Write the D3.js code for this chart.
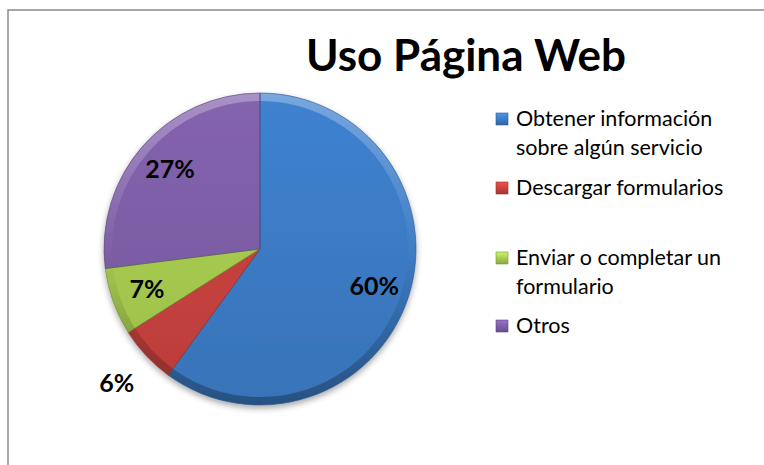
<!DOCTYPE html>
<meta charset="utf-8">
<style>
body { margin: 0; background: #fff; }
text { font-family: Lato, "Open Sans", sans-serif; }
.title { font-weight: bold; font-size: 44px; }
.legend text { font-size: 21.5px; fill: #000; }
.label { font-weight: bold; font-size: 25px; fill: #000; }
</style>
<svg width="764" height="465"></svg>
<script src="https://d3js.org/d3.v7.min.js"></script>
<script>

// chart data
var categories = ["Obtener información sobre algún servicio", "Descargar formularios", "Enviar o completar un formulario", "Otros"];
var legendLines = [["Obtener información", "sobre algún servicio"], ["Descargar formularios"], ["Enviar o completar un", "formulario"], ["Otros"]];
var values = [0.60, 0.06, 0.07, 0.27];
var colors = ["#3b79c2", "#c4403d", "#a4c74e", "#7b5ca3"];

var svg = d3.select("svg");

// frame of the chart area
svg.append("path")
    .attr("d", "M8,470 V10 H770")
    .attr("fill", "none")
    .attr("stroke", "#8a8a8a")
    .attr("stroke-width", 1.5);

var defs = svg.append("defs");

var shadow = defs.append("filter").attr("id", "shadow")
    .attr("x", "-20%").attr("y", "-20%").attr("width", "140%").attr("height", "140%");
shadow.append("feGaussianBlur").attr("in", "SourceAlpha").attr("stdDeviation", 3);
shadow.append("feOffset").attr("dx", 0).attr("dy", 3).attr("result", "b");
shadow.append("feComponentTransfer").append("feFuncA").attr("type", "linear").attr("slope", 0.35);
var merge = shadow.append("feMerge");
merge.append("feMergeNode");
merge.append("feMergeNode").attr("in", "SourceGraphic");

var cx = 260, cy = 249, radius = 156;

// rim gradient: light at top, dark at bottom (in group coordinates)
var rim = defs.append("linearGradient").attr("id", "rim")
    .attr("gradientUnits", "userSpaceOnUse")
    .attr("x1", 0).attr("y1", -radius).attr("x2", 0).attr("y2", radius);
rim.append("stop").attr("offset", "0%").attr("stop-color", "#fff").attr("stop-opacity", 0.3);
rim.append("stop").attr("offset", "45%").attr("stop-color", "#fff").attr("stop-opacity", 0.04);
rim.append("stop").attr("offset", "60%").attr("stop-color", "#000").attr("stop-opacity", 0.04);
rim.append("stop").attr("offset", "100%").attr("stop-color", "#000").attr("stop-opacity", 0.3);

colors.forEach(function(c, i) {
  var g = defs.append("linearGradient").attr("id", "face" + i)
      .attr("gradientUnits", "userSpaceOnUse")
      .attr("x1", 0).attr("y1", -radius).attr("x2", 0).attr("y2", radius);
  g.append("stop").attr("offset", "0%").attr("stop-color", d3.color(c).brighter(0.2));
  g.append("stop").attr("offset", "100%").attr("stop-color", d3.color(c).darker(0.15));

  var m = defs.append("linearGradient").attr("id", "mark" + i)
      .attr("x1", 0).attr("y1", 0).attr("x2", 0).attr("y2", 1);
  m.append("stop").attr("offset", "0%").attr("stop-color", d3.color(c).brighter(0.6));
  m.append("stop").attr("offset", "100%").attr("stop-color", d3.color(c).darker(0.5));
});

var pie = d3.pie().sort(null).value(function(d) { return d; });
var arcs = pie(values);

var arc = d3.arc().innerRadius(0).outerRadius(radius);
var rimArc = d3.arc().innerRadius(radius - 8).outerRadius(radius);
var labelArc = d3.arc().innerRadius(radius * 0.77).outerRadius(radius * 0.77);
var outerLabelArc = d3.arc().innerRadius(radius * 1.26).outerRadius(radius * 1.26);

var g = svg.append("g").attr("transform", "translate(" + cx + "," + cy + ")");

var slices = g.append("g").attr("filter", "url(#shadow)");

slices.selectAll("path.face")
  .data(arcs)
  .enter().append("path")
    .attr("class", "face")
    .attr("d", arc)
    .attr("fill", function(d, i) { return "url(#face" + i + ")"; });

slices.selectAll("path.rim")
  .data(arcs)
  .enter().append("path")
    .attr("class", "rim")
    .attr("d", rimArc)
    .attr("fill", "url(#rim)");

slices.selectAll("path.edge")
  .data(arcs)
  .enter().append("path")
    .attr("class", "edge")
    .attr("d", arc)
    .attr("fill", "none")
    .attr("stroke", function(d, i) { return d3.color(colors[i]).darker(0.9); })
    .attr("stroke-opacity", 0.6)
    .attr("stroke-width", 1)
    .attr("stroke-linejoin", "round");

g.selectAll("text.label")
  .data(arcs)
  .enter().append("text")
    .attr("class", "label")
    .attr("text-anchor", "middle")
    .attr("dy", "0.35em")
    .attr("transform", function(d) {
      var p = (d.data < 0.065 ? outerLabelArc : labelArc).centroid(d);
      return "translate(" + p + ")";
    })
    .text(function(d) { return Math.round(d.data * 100) + "%"; });

svg.append("text")
    .attr("class", "title")
    .attr("x", 466)
    .attr("y", 71)
    .attr("text-anchor", "middle")
    .text("Uso Página Web");

// legend
var legendY = [119, 188, 258, 326];
var lineH = 29;

var legend = svg.append("g").attr("class", "legend");
var item = legend.selectAll("g")
  .data(categories)
  .enter().append("g")
    .attr("transform", function(d, i) { return "translate(496," + legendY[i] + ")"; });

item.append("rect")
    .attr("x", 0).attr("y", -6)
    .attr("width", 12).attr("height", 12)
    .attr("fill", function(d, i) { return "url(#mark" + i + ")"; })
    .attr("stroke", function(d, i) { return d3.color(colors[i]).darker(0.8); })
    .attr("stroke-width", 0.6);

item.each(function(d, i) {
  var t = d3.select(this).append("text").attr("x", 20).attr("y", 7);
  legendLines[i].forEach(function(line, j) {
    t.append("tspan").attr("x", 20).attr("dy", j ? lineH : 0).text(line);
  });
});

</script>
